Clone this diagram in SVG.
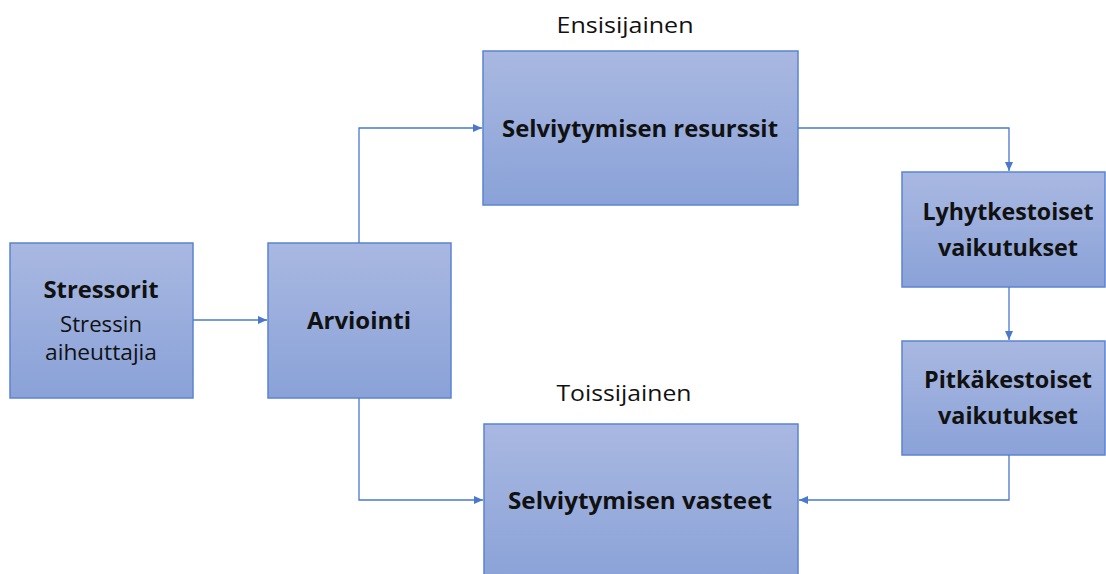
<svg xmlns="http://www.w3.org/2000/svg" width="1106" height="574" viewBox="0 0 1106 574">
<defs>
<linearGradient id="g" x1="0" y1="0" x2="0" y2="1">
<stop offset="0" stop-color="#a9b8e1"/>
<stop offset="1" stop-color="#8aa2d8"/>
</linearGradient>
<marker id="ah" markerWidth="10" markerHeight="8" refX="9" refY="4" orient="auto" markerUnits="userSpaceOnUse">
<path d="M0,0 L9,4 L0,8 Z" fill="#4a78cc"/>
</marker>
<style>
.box{fill:url(#g);stroke:#5b84d2;stroke-width:1.5}
.b{font-family:"Open Sans","Liberation Sans",sans-serif;font-weight:bold;font-size:23px;fill:#111;text-anchor:middle}
.r{font-family:"Open Sans","Liberation Sans",sans-serif;font-size:22px;fill:#111;text-anchor:middle}
.c{fill:none;stroke:#4a78cc;stroke-width:1.3}
</style>
</defs>
<rect width="1106" height="574" fill="#fff"/>
<g id="n-stressorit">
<rect class="box" x="10" y="243" width="183" height="155"/>
<text class="b" x="101" y="298" textLength="115" lengthAdjust="spacingAndGlyphs">Stressorit</text>
<text class="r" x="101" y="332" textLength="82" lengthAdjust="spacingAndGlyphs">Stressin</text>
<text class="r" x="101" y="360" textLength="112" lengthAdjust="spacingAndGlyphs">aiheuttajia</text>
</g>
<g id="n-arviointi">
<rect class="box" x="268" y="243" width="183" height="155"/>
<text class="b" x="359" y="329" textLength="104" lengthAdjust="spacingAndGlyphs">Arviointi</text>
</g>
<g id="n-resurssit">
<text class="r" x="625" y="33" textLength="137" lengthAdjust="spacingAndGlyphs">Ensisijainen</text>
<rect class="box" x="483" y="51" width="315" height="154"/>
<text class="b" x="640" y="137" textLength="276" lengthAdjust="spacingAndGlyphs">Selviytymisen resurssit</text>
</g>
<g id="n-lyhyt">
<rect class="box" x="902" y="172" width="203" height="115"/>
<text class="b" x="1008" y="220" textLength="171" lengthAdjust="spacingAndGlyphs">Lyhytkestoiset</text>
<text class="b" x="1008" y="256" textLength="140" lengthAdjust="spacingAndGlyphs">vaikutukset</text>
</g>
<g id="n-pitka">
<rect class="box" x="902" y="341" width="203" height="114"/>
<text class="b" x="1008" y="388" textLength="168" lengthAdjust="spacingAndGlyphs">Pitkäkestoiset</text>
<text class="b" x="1008" y="424" textLength="140" lengthAdjust="spacingAndGlyphs">vaikutukset</text>
</g>
<g id="n-vasteet">
<text class="r" x="624" y="401" textLength="135" lengthAdjust="spacingAndGlyphs">Toissijainen</text>
<rect class="box" x="484" y="424" width="314" height="160"/>
<text class="b" x="640" y="509" textLength="264" lengthAdjust="spacingAndGlyphs">Selviytymisen vasteet</text>
</g>
<g id="connectors">
<path class="c" d="M193,320 H267" marker-end="url(#ah)"/>
<path class="c" d="M359,243 V128 H482" marker-end="url(#ah)"/>
<path class="c" d="M798,128 H1009 V171" marker-end="url(#ah)"/>
<path class="c" d="M1009,287 V340" marker-end="url(#ah)"/>
<path class="c" d="M1009,455 V500 H799" marker-end="url(#ah)"/>
<path class="c" d="M359,398 V500 H483" marker-end="url(#ah)"/>
</g>
</svg>
